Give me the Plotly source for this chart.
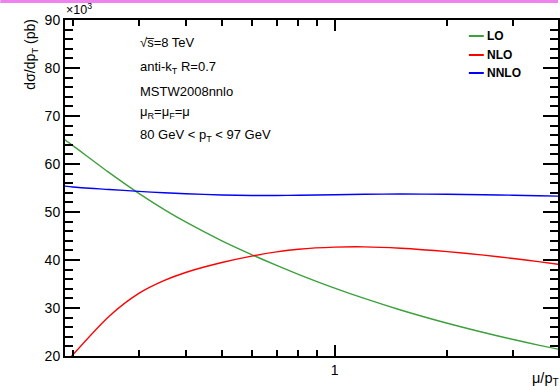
import plotly.graph_objects as go

# Scale ratio mu/pT
mu_over_pt = [0.19, 0.2, 0.25, 0.3, 0.35, 0.4, 0.5, 0.6, 0.7, 0.8,
              1.0, 1.2, 1.5, 2.0, 2.5, 3.0, 3.5, 4.0]

# d sigma / d pT in units of 10^3 pb
lo_vals = [65.1, 63.84, 58.2, 53.88, 50.55, 47.93, 44.0, 41.14, 38.87, 37.02,
           34.14, 31.99, 29.59, 26.82, 24.89, 23.43, 22.27, 21.34]
nlo_vals = [18.2, 20.25, 28.3, 33.05, 35.7, 37.4, 39.47, 40.81, 41.69, 42.24,
            42.68, 42.74, 42.45, 41.75, 41.02, 40.3, 39.65, 39.04]
nnlo_vals = [55.4, 55.2, 54.7, 54.3, 54.0, 53.8, 53.55, 53.45, 53.45, 53.5,
             53.6, 53.7, 53.75, 53.7, 53.6, 53.5, 53.4, 53.3]

series_names = ["LO", "NLO", "NNLO"]
series_colors = ["rgb(60,160,60)", "rgb(255,0,0)", "rgb(0,0,255)"]

info_lines = [
    "√s\u0305=8 TeV",
    "anti-k<sub>T</sub> R=0.7",
    "MSTW2008nnlo",
    "μ<sub>R</sub>=μ<sub>F</sub>=μ",
    "80 GeV &lt; p<sub>T</sub> &lt; 97 GeV",
]

x_minor = [0.2, 0.3, 0.4, 0.5, 0.6, 0.7, 0.8, 0.9, 2, 3, 4]

W, H = 560, 390
ML, MR, MT, MB = 65, 0, 20, 34
PW, PH = W - ML - MR, H - MT - MB
FONT = "Liberation Sans, Arial, Helvetica, sans-serif"


def px_x(px):
    return (px - ML) / PW


def px_y(py):
    return (MT + PH - py) / PH


fig = go.Figure()
for name, vals, col in zip(series_names, [lo_vals, nlo_vals, nnlo_vals], series_colors):
    fig.add_trace(go.Scatter(
        x=mu_over_pt, y=vals, mode="lines", name=name,
        line=dict(color=col, width=1.4, shape="spline", smoothing=0.7),
        showlegend=False,
    ))

annotations = []
shapes = []

# Info block
info_y = [43, 67.5, 91.5, 112, 135]
for txt, py in zip(info_lines, info_y):
    annotations.append(dict(
        text=txt, x=px_x(138), y=px_y(py), xref="paper", yref="paper",
        xanchor="left", yanchor="middle", showarrow=False,
        font=dict(family=FONT, size=13, color="black"),
    ))

# Legend
legend_y = [36, 55, 73]
for name, col, py in zip(series_names, series_colors, legend_y):
    shapes.append(dict(
        type="line", xref="paper", yref="paper",
        x0=px_x(470.5), x1=px_x(485.5), y0=px_y(py), y1=px_y(py),
        line=dict(color=col, width=2),
    ))
    annotations.append(dict(
        text="<b>%s</b>" % name, x=px_x(487), y=px_y(py), xref="paper", yref="paper",
        xanchor="left", yanchor="middle", showarrow=False,
        font=dict(family=FONT, size=12, color="black"),
    ))

# Exponent marker for the y axis
annotations.append(dict(
    text="×10<sup>3</sup>", x=px_x(64), y=px_y(19), xref="paper", yref="paper",
    xanchor="left", yanchor="bottom", showarrow=False,
    font=dict(family=FONT, size=12.5, color="black"),
))

# Axis titles
annotations.append(dict(
    text="dσ/dp<sub>T</sub> (pb)", x=px_x(30), y=px_y(17), xref="paper", yref="paper",
    xanchor="center", yanchor="top", textangle=-90, showarrow=False,
    font=dict(family=FONT, size=14, color="black"),
))
annotations.append(dict(
    text="μ/p<sub>T</sub>", x=px_x(563), y=px_y(379), xref="paper", yref="paper",
    xanchor="right", yanchor="middle", showarrow=False,
    font=dict(family=FONT, size=14.5, color="black"),
))

# Magenta strip across the top of the canvas
shapes.append(dict(
    type="rect", xref="paper", yref="paper",
    x0=px_x(0), x1=px_x(W), y0=px_y(3), y1=px_y(0),
    line=dict(width=0), fillcolor="rgb(238,130,238)",
))

fig.update_layout(
    width=W, height=H,
    margin=dict(l=ML, r=MR, t=MT, b=MB, pad=0),
    paper_bgcolor="white", plot_bgcolor="white",
    font=dict(family=FONT, size=14, color="black"),
    annotations=annotations, shapes=shapes,
    xaxis=dict(
        type="log", range=[-0.72, -0.72 + PW / 376.0],
        tickmode="array", tickvals=[1], ticktext=["1"],
        ticks="inside", ticklen=11, tickwidth=1.5, tickcolor="black",
        showline=True, linecolor="black", linewidth=2, mirror="ticks",
        showgrid=False, zeroline=False,
        tickfont=dict(family=FONT, size=14, color="black"),
        minor=dict(tickmode="array", tickvals=x_minor, ticks="inside",
                   ticklen=6, tickwidth=1.5, tickcolor="black", showgrid=False),
    ),
    yaxis=dict(
        range=[20, 90], tickmode="linear", tick0=20, dtick=10,
        ticks="inside", ticklen=15, tickwidth=2, tickcolor="black",
        showline=True, linecolor="black", linewidth=2, mirror="ticks",
        showgrid=False, zeroline=False,
        tickfont=dict(family=FONT, size=14, color="black"),
        minor=dict(dtick=2, ticks="inside", ticklen=8, tickwidth=2,
                   tickcolor="black", showgrid=False),
    ),
)

fig.write_html("out.html")
